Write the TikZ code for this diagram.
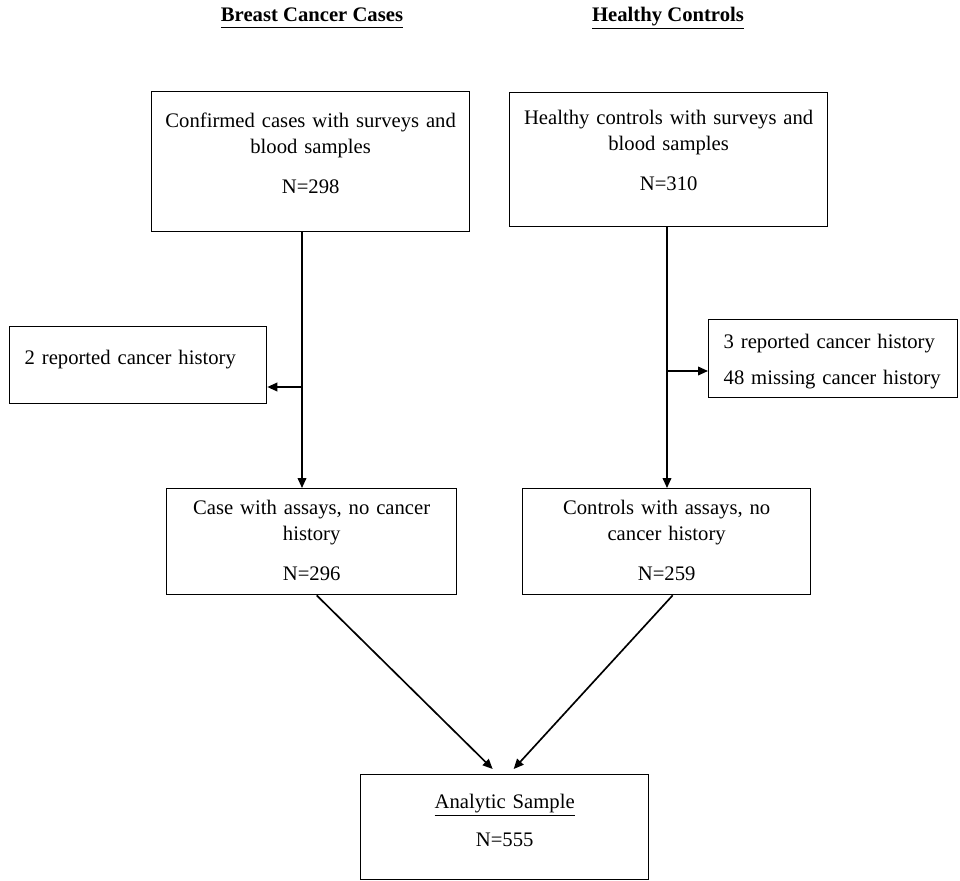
\documentclass[tikz,border=0pt]{standalone}
\usepackage{fontspec}
\setmainfont{Liberation Serif}
\usetikzlibrary{arrows.meta, calc}

\begin{document}
\begin{tikzpicture}[x=0.75pt, y=-0.75pt,
    box/.style={draw, line width=1pt, inner sep=0pt, align=center, anchor=north west,
        font=\fontsize{15.5pt}{19.5pt}\selectfont},
    sidebox/.style={box, align=left, inner xsep=11.25pt},
    title/.style={font=\fontsize{15.5pt}{19.5pt}\selectfont\bfseries},
    link/.style={line width=1.25pt, -{Triangle[length=7.5pt, width=6.5pt]}}]
    \useasboundingbox (0,0) rectangle (960,881);

    % Column titles
    \node[title] (ttlcases) at (312,18) {\underline{Breast Cancer Cases\vphantom{y}}};
    \node[title] (ttlctrl) at (668,18) {\underline{Healthy Controls}};

    % Starting samples
    \node[box, text width=238.5pt, text height=27pt, text depth=78pt] (cases) at (151,91)
        {Confirmed cases with surveys and\\ blood samples\\[10.5pt] N=298};
    \node[box, text width=238.5pt, text height=24pt, text depth=76.5pt] (ctrl) at (509,92)
        {Healthy controls with surveys and\\ blood samples\\[10.5pt] N=310};

    % Exclusions
    \node[sidebox, text width=170.25pt, text height=28.5pt, text depth=29.25pt] (exl) at (9,326)
        {2 reported cancer history};
    \node[sidebox, text width=164.25pt, text height=21.75pt, text depth=36.75pt] (exr) at (708,319)
        {3 reported cancer history\\[7.5pt] 48 missing cancer history};

    % After exclusion
    \node[box, text width=217.5pt, text height=19.5pt, text depth=60pt] (casesn) at (166,488)
        {Case with assays, no cancer\\ history\\[10.5pt] N=296};
    \node[box, text width=216pt, text height=19.5pt, text depth=60pt] (ctrln) at (522,488)
        {Controls with assays, no\\ cancer history\\[10.5pt] N=259};

    % Pooled sample
    \node[box, text width=216pt, text height=25.5pt, text depth=53.25pt] (sample) at (360,774)
        {\underline{Analytic Sample}\\[9pt] N=555};

    % Flow
    \coordinate (jl) at (302,387);
    \coordinate (jr) at (667,371);
    \draw[link] (jl |- cases.south) -- (jl |- casesn.north);
    \draw[link] (jl) -- (jl -| exl.east);
    \draw[link] (jr |- ctrl.south) -- (jr |- ctrln.north);
    \draw[link] (jr) -- (jr -| exr.west);
    \draw[link] ($(casesn.south)+(5,0)$) -- ($(sample.north)+(-12,-5)$);
    \draw[link] ($(ctrln.south)+(6,0)$) -- ($(sample.north)+(9,-5)$);
\end{tikzpicture}
\end{document}
